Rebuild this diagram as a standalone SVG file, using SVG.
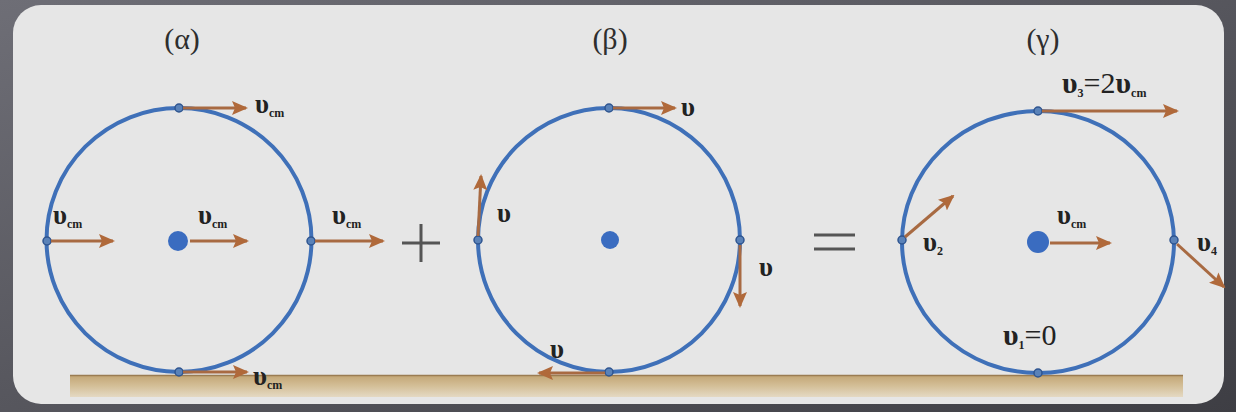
<svg xmlns="http://www.w3.org/2000/svg" width="1236" height="412" viewBox="0 0 1236 412">
<defs>
<linearGradient id="bg" x1="0" y1="0" x2="1" y2="1">
<stop offset="0" stop-color="#6e6e76"/>
<stop offset="1" stop-color="#3e3e44"/>
</linearGradient>
<linearGradient id="ground" x1="0" y1="0" x2="0" y2="1">
<stop offset="0" stop-color="#c2a574"/>
<stop offset="0.5" stop-color="#d4bf98"/>
<stop offset="1" stop-color="#e4d9c3"/>
</linearGradient>
<marker id="ah" viewBox="0 0 16 14" refX="14" refY="7" markerWidth="16" markerHeight="14" markerUnits="userSpaceOnUse" orient="auto">
<path d="M0,0 L16,7 L0,14 L3,7 Z" fill="#b0693a"/>
</marker>
</defs>
<style>
.wheel{fill:none;stroke:#3f70b8;stroke-width:4}
.pt{fill:#5a82b8;stroke:#2f5590;stroke-width:1.5}
.cdot{fill:#3a6cc0}
.arr{stroke:#a86a42;stroke-width:3;fill:none;marker-end:url(#ah)}
.lbl{font-family:"Liberation Serif",serif;font-size:27px;font-weight:bold;fill:#222}
.big{font-size:30px}
.reg{font-weight:normal}
.sub{font-size:12px}
.ttl{font-family:"Liberation Serif",serif;font-size:30px;fill:#2e2e2e}
.sym{stroke:#555;stroke-width:3;fill:none}
</style>
<rect width="1236" height="412" fill="url(#bg)"/>
<rect x="13" y="5" width="1211" height="399" rx="28" fill="#e6e6e6"/>
<g id="ground-strip">
<rect x="70" y="375" width="1113" height="22" fill="url(#ground)"/>
<line x1="70" y1="375.5" x2="1183" y2="375.5" stroke="#9a7c52" stroke-width="1.5"/>
</g>
<g id="title-a"><text class="ttl" x="182" y="49" text-anchor="middle">(α)</text></g>
<g id="title-b"><text class="ttl" x="610" y="49" text-anchor="middle">(β)</text></g>
<g id="title-c"><text class="ttl" x="1043" y="49" text-anchor="middle">(γ)</text></g>
<g id="wheel-a">
<ellipse class="wheel" cx="179" cy="240" rx="132.5" ry="132"/>
<circle class="cdot" cx="178" cy="241" r="10"/>
<circle class="pt" cx="179" cy="108" r="4"/>
<circle class="pt" cx="47" cy="241" r="4"/>
<circle class="pt" cx="311" cy="241" r="4"/>
<circle class="pt" cx="179" cy="372" r="4"/>
</g>
<g id="wheel-b">
<ellipse class="wheel" cx="609" cy="240" rx="131" ry="132"/>
<circle class="cdot" cx="610" cy="240" r="9"/>
<circle class="pt" cx="609" cy="108" r="4"/>
<circle class="pt" cx="478" cy="240" r="4"/>
<circle class="pt" cx="740" cy="240" r="4"/>
<circle class="pt" cx="609" cy="372" r="4"/>
</g>
<g id="wheel-c">
<ellipse class="wheel" cx="1038" cy="242" rx="136" ry="131"/>
<circle class="cdot" cx="1038" cy="242" r="11"/>
<circle class="pt" cx="1038" cy="111" r="4"/>
<circle class="pt" cx="902" cy="240" r="4"/>
<circle class="pt" cx="1174" cy="240" r="4"/>
<circle class="pt" cx="1038" cy="373" r="4"/>
</g>
<g id="connectors">
<line class="arr" x1="183" y1="108" x2="246" y2="108"/>
<line class="arr" x1="51" y1="241" x2="113" y2="241"/>
<line class="arr" x1="190" y1="241" x2="247" y2="241"/>
<line class="arr" x1="315" y1="241" x2="383" y2="241"/>
<line class="arr" x1="183" y1="372" x2="247" y2="372"/>
<line class="arr" x1="613" y1="108" x2="675" y2="108"/>
<line class="arr" x1="478" y1="236" x2="481" y2="176"/>
<line class="arr" x1="740" y1="245" x2="740" y2="306"/>
<line class="arr" x1="605" y1="373" x2="539" y2="373"/>
<line class="arr" x1="1042" y1="111" x2="1177" y2="111"/>
<line class="arr" x1="905" y1="237" x2="953" y2="196"/>
<line class="arr" x1="1050" y1="243" x2="1110" y2="243"/>
<line class="arr" x1="1177" y1="244" x2="1224" y2="287"/>
</g>
<g id="labels">
<text class="lbl" x="255" y="113">υ<tspan class="sub" dy="4">cm</tspan></text>
<text class="lbl" x="53" y="224">υ<tspan class="sub" dy="4">cm</tspan></text>
<text class="lbl" x="198" y="224">υ<tspan class="sub" dy="4">cm</tspan></text>
<text class="lbl" x="332" y="224">υ<tspan class="sub" dy="4">cm</tspan></text>
<text class="lbl" x="253" y="385">υ<tspan class="sub" dy="4">cm</tspan></text>
<text class="lbl" x="681" y="116">υ</text>
<text class="lbl" x="497" y="222">υ</text>
<text class="lbl" x="759" y="276">υ</text>
<text class="lbl" x="550" y="358">υ</text>
<text class="lbl big" x="1062" y="93">υ<tspan class="sub" dy="4">3</tspan><tspan class="reg" dy="-4">=2</tspan>υ<tspan class="sub" dy="4">cm</tspan></text>
<text class="lbl" x="923" y="251">υ<tspan class="sub" dy="4">2</tspan></text>
<text class="lbl" x="1057" y="224">υ<tspan class="sub" dy="4">cm</tspan></text>
<text class="lbl" x="1197" y="251">υ<tspan class="sub" dy="4">4</tspan></text>
<text class="lbl big" x="1003" y="345">υ<tspan class="sub" dy="4">1</tspan><tspan class="reg" dy="-4">=0</tspan></text>
</g>
<g id="plus"><line class="sym" x1="402" y1="243" x2="440" y2="243"/><line class="sym" x1="421" y1="224" x2="421" y2="262"/></g>
<g id="equals"><line class="sym" x1="814" y1="235" x2="855" y2="235"/><line class="sym" x1="814" y1="249" x2="855" y2="249"/></g>
</svg>
